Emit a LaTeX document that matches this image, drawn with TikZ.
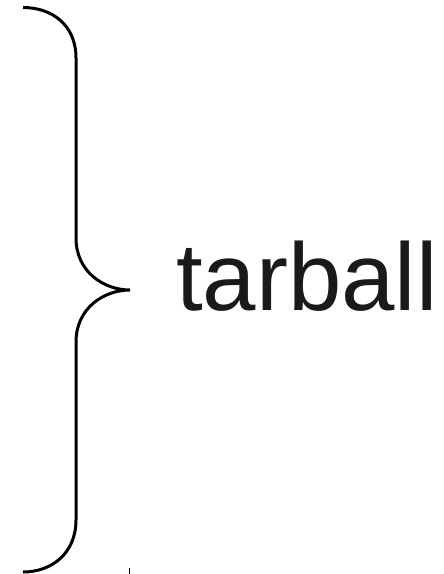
\documentclass[tikz,border=0pt]{standalone}
\usepackage{fontspec}
\setmainfont{Liberation Sans}
\definecolor{txt}{HTML}{1A1A1A}
\begin{document}
\begin{tikzpicture}[x=1pt,y=-1pt,
  bracestyle/.style={line width=3pt,line cap=butt,black},
  labelstyle/.style={inner sep=0pt,anchor=base west,text=txt,font=\fontsize{96}{100}\selectfont}]
\useasboundingbox (0,0) rectangle (444,574);
\coordinate (top) at (23,7.5);
\coordinate (bot) at (23,572);
\coordinate (tip) at (130,290);
\draw[bracestyle] (top) .. controls (52,7.5) and (76,25) .. (76,58)
  -- (76,238) .. controls (76,272) and (104,290) .. (tip)
  .. controls (104,290) and (76,308) .. (76,342)
  -- (76,520) .. controls (76,553) and (52,572) .. (bot);
\node[labelstyle] (lbl) at (176,310) {tarball};
\coordinate (tickA) at (129.5,568);
\coordinate (tickB) at (129.5,574);
\draw[line width=0.8pt,black] (tickA) -- (tickB);
\end{tikzpicture}
\end{document}
